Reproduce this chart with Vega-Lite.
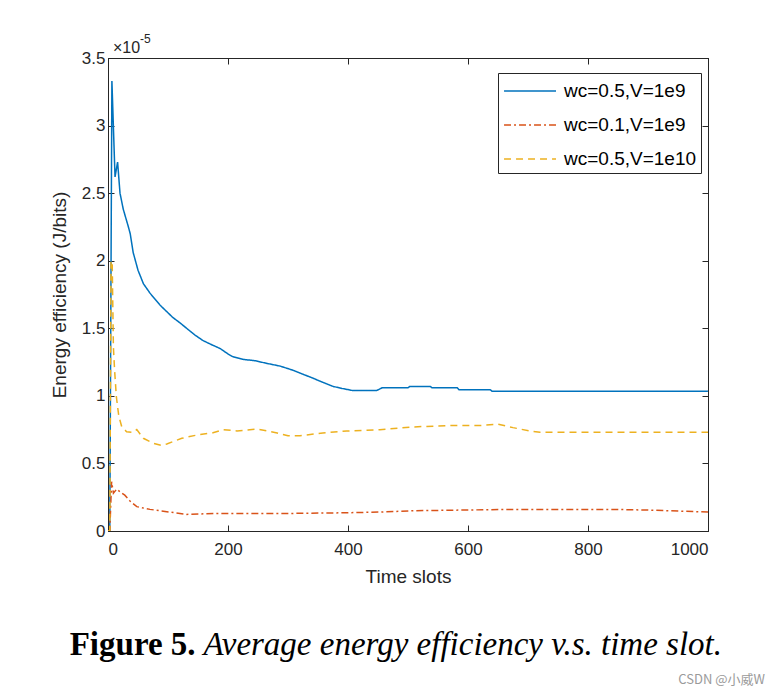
{
  "$schema": "https://vega.github.io/schema/vega-lite/v6.json",
  "width": 600,
  "height": 473,
  "autosize": {"type": "none"},
  "padding": {"left": 108, "top": 58, "right": 72, "bottom": 165},
  "background": "white",
  "config": {
    "font": "Liberation Sans",
    "view": {"stroke": "#262626", "strokeWidth": 1},
    "axis": {
      "grid": false,
      "domainColor": "#262626",
      "domainWidth": 1,
      "tickColor": "#262626",
      "tickSize": -6,
      "tickWidth": 1,
      "labelFont": "Liberation Sans",
      "labelFontSize": 17,
      "labelColor": "#262626",
      "titleFont": "Liberation Sans",
      "titleFontSize": 19,
      "titleFontWeight": "normal",
      "titleColor": "#262626"
    },
    "legend": {
      "labelFont": "Liberation Sans",
      "labelFontSize": 19,
      "labelColor": "#000000"
    }
  },
  "datasets": {
    "series": [
      {"t": 0, "v": 0, "s": "wc=0.5,V=1e9"},
      {"t": 3, "v": 0, "s": "wc=0.5,V=1e9"},
      {"t": 6.5, "v": 3.33, "s": "wc=0.5,V=1e9"},
      {"t": 11.7, "v": 2.62, "s": "wc=0.5,V=1e9"},
      {"t": 16, "v": 2.73, "s": "wc=0.5,V=1e9"},
      {"t": 20, "v": 2.5, "s": "wc=0.5,V=1e9"},
      {"t": 25.5, "v": 2.38, "s": "wc=0.5,V=1e9"},
      {"t": 34, "v": 2.25, "s": "wc=0.5,V=1e9"},
      {"t": 37, "v": 2.2, "s": "wc=0.5,V=1e9"},
      {"t": 42, "v": 2.06, "s": "wc=0.5,V=1e9"},
      {"t": 50, "v": 1.93, "s": "wc=0.5,V=1e9"},
      {"t": 59, "v": 1.83, "s": "wc=0.5,V=1e9"},
      {"t": 70, "v": 1.76, "s": "wc=0.5,V=1e9"},
      {"t": 87, "v": 1.67, "s": "wc=0.5,V=1e9"},
      {"t": 108, "v": 1.58, "s": "wc=0.5,V=1e9"},
      {"t": 120, "v": 1.54, "s": "wc=0.5,V=1e9"},
      {"t": 131, "v": 1.5, "s": "wc=0.5,V=1e9"},
      {"t": 145, "v": 1.45, "s": "wc=0.5,V=1e9"},
      {"t": 158, "v": 1.41, "s": "wc=0.5,V=1e9"},
      {"t": 172, "v": 1.38, "s": "wc=0.5,V=1e9"},
      {"t": 187, "v": 1.35, "s": "wc=0.5,V=1e9"},
      {"t": 200, "v": 1.31, "s": "wc=0.5,V=1e9"},
      {"t": 208, "v": 1.29, "s": "wc=0.5,V=1e9"},
      {"t": 225, "v": 1.27, "s": "wc=0.5,V=1e9"},
      {"t": 245, "v": 1.26, "s": "wc=0.5,V=1e9"},
      {"t": 265, "v": 1.24, "s": "wc=0.5,V=1e9"},
      {"t": 287, "v": 1.22, "s": "wc=0.5,V=1e9"},
      {"t": 308, "v": 1.19, "s": "wc=0.5,V=1e9"},
      {"t": 325, "v": 1.16, "s": "wc=0.5,V=1e9"},
      {"t": 342, "v": 1.13, "s": "wc=0.5,V=1e9"},
      {"t": 358, "v": 1.1, "s": "wc=0.5,V=1e9"},
      {"t": 375, "v": 1.07, "s": "wc=0.5,V=1e9"},
      {"t": 390, "v": 1.055, "s": "wc=0.5,V=1e9"},
      {"t": 407, "v": 1.04, "s": "wc=0.5,V=1e9"},
      {"t": 448, "v": 1.04, "s": "wc=0.5,V=1e9"},
      {"t": 457, "v": 1.06, "s": "wc=0.5,V=1e9"},
      {"t": 500, "v": 1.06, "s": "wc=0.5,V=1e9"},
      {"t": 503, "v": 1.07, "s": "wc=0.5,V=1e9"},
      {"t": 537, "v": 1.07, "s": "wc=0.5,V=1e9"},
      {"t": 540, "v": 1.06, "s": "wc=0.5,V=1e9"},
      {"t": 582, "v": 1.06, "s": "wc=0.5,V=1e9"},
      {"t": 585, "v": 1.045, "s": "wc=0.5,V=1e9"},
      {"t": 637, "v": 1.045, "s": "wc=0.5,V=1e9"},
      {"t": 640, "v": 1.035, "s": "wc=0.5,V=1e9"},
      {"t": 1000, "v": 1.035, "s": "wc=0.5,V=1e9"},

      {"t": 0, "v": 0, "s": "wc=0.1,V=1e9"},
      {"t": 3, "v": 0, "s": "wc=0.1,V=1e9"},
      {"t": 6, "v": 0.365, "s": "wc=0.1,V=1e9"},
      {"t": 9, "v": 0.28, "s": "wc=0.1,V=1e9"},
      {"t": 14.5, "v": 0.31, "s": "wc=0.1,V=1e9"},
      {"t": 23, "v": 0.28, "s": "wc=0.1,V=1e9"},
      {"t": 28, "v": 0.265, "s": "wc=0.1,V=1e9"},
      {"t": 37, "v": 0.22, "s": "wc=0.1,V=1e9"},
      {"t": 48, "v": 0.18, "s": "wc=0.1,V=1e9"},
      {"t": 70, "v": 0.16, "s": "wc=0.1,V=1e9"},
      {"t": 98, "v": 0.143, "s": "wc=0.1,V=1e9"},
      {"t": 131, "v": 0.123, "s": "wc=0.1,V=1e9"},
      {"t": 181, "v": 0.13, "s": "wc=0.1,V=1e9"},
      {"t": 303, "v": 0.13, "s": "wc=0.1,V=1e9"},
      {"t": 398, "v": 0.135, "s": "wc=0.1,V=1e9"},
      {"t": 453, "v": 0.14, "s": "wc=0.1,V=1e9"},
      {"t": 508, "v": 0.15, "s": "wc=0.1,V=1e9"},
      {"t": 592, "v": 0.155, "s": "wc=0.1,V=1e9"},
      {"t": 675, "v": 0.16, "s": "wc=0.1,V=1e9"},
      {"t": 842, "v": 0.16, "s": "wc=0.1,V=1e9"},
      {"t": 898, "v": 0.155, "s": "wc=0.1,V=1e9"},
      {"t": 1000, "v": 0.14, "s": "wc=0.1,V=1e9"},

      {"t": 0, "v": 0, "s": "wc=0.5,V=1e10"},
      {"t": 3, "v": 0, "s": "wc=0.5,V=1e10"},
      {"t": 5, "v": 2.0, "s": "wc=0.5,V=1e10"},
      {"t": 7, "v": 1.99, "s": "wc=0.5,V=1e10"},
      {"t": 9, "v": 1.36, "s": "wc=0.5,V=1e10"},
      {"t": 11, "v": 1.19, "s": "wc=0.5,V=1e10"},
      {"t": 14, "v": 0.99, "s": "wc=0.5,V=1e10"},
      {"t": 18, "v": 0.85, "s": "wc=0.5,V=1e10"},
      {"t": 23, "v": 0.77, "s": "wc=0.5,V=1e10"},
      {"t": 31, "v": 0.735, "s": "wc=0.5,V=1e10"},
      {"t": 42, "v": 0.73, "s": "wc=0.5,V=1e10"},
      {"t": 48, "v": 0.75, "s": "wc=0.5,V=1e10"},
      {"t": 59, "v": 0.686, "s": "wc=0.5,V=1e10"},
      {"t": 75, "v": 0.65, "s": "wc=0.5,V=1e10"},
      {"t": 88, "v": 0.635, "s": "wc=0.5,V=1e10"},
      {"t": 98, "v": 0.644, "s": "wc=0.5,V=1e10"},
      {"t": 123, "v": 0.686, "s": "wc=0.5,V=1e10"},
      {"t": 148, "v": 0.71, "s": "wc=0.5,V=1e10"},
      {"t": 175, "v": 0.727, "s": "wc=0.5,V=1e10"},
      {"t": 192, "v": 0.75, "s": "wc=0.5,V=1e10"},
      {"t": 215, "v": 0.74, "s": "wc=0.5,V=1e10"},
      {"t": 248, "v": 0.755, "s": "wc=0.5,V=1e10"},
      {"t": 265, "v": 0.74, "s": "wc=0.5,V=1e10"},
      {"t": 282, "v": 0.725, "s": "wc=0.5,V=1e10"},
      {"t": 300, "v": 0.705, "s": "wc=0.5,V=1e10"},
      {"t": 320, "v": 0.705, "s": "wc=0.5,V=1e10"},
      {"t": 358, "v": 0.725, "s": "wc=0.5,V=1e10"},
      {"t": 398, "v": 0.74, "s": "wc=0.5,V=1e10"},
      {"t": 453, "v": 0.75, "s": "wc=0.5,V=1e10"},
      {"t": 508, "v": 0.77, "s": "wc=0.5,V=1e10"},
      {"t": 565, "v": 0.78, "s": "wc=0.5,V=1e10"},
      {"t": 620, "v": 0.78, "s": "wc=0.5,V=1e10"},
      {"t": 650, "v": 0.79, "s": "wc=0.5,V=1e10"},
      {"t": 675, "v": 0.765, "s": "wc=0.5,V=1e10"},
      {"t": 703, "v": 0.74, "s": "wc=0.5,V=1e10"},
      {"t": 720, "v": 0.73, "s": "wc=0.5,V=1e10"},
      {"t": 1000, "v": 0.73, "s": "wc=0.5,V=1e10"}
    ],
    "base": [{"txt": "×10"}],
    "exp": [{"txt": "-5"}],
    "figlabel": [{"txt": "Figure 5."}],
    "caption": [{"txt": "Average energy efficiency v.s. time slot."}],
    "mark": [{"txt": "CSDN @小威W"}]
  },
  "layer": [
    {
      "data": {"name": "series"},
      "mark": {"type": "line", "strokeWidth": 1.5, "clip": true},
      "encoding": {
        "x": {
          "field": "t", "type": "quantitative",
          "scale": {"domain": [0, 1000], "nice": false},
          "axis": {"values": [0, 200, 400, 600, 800, 1000], "format": "d", "title": "Time slots", "labelPadding": 16, "titlePadding": 10}
        },
        "y": {
          "field": "v", "type": "quantitative",
          "scale": {"domain": [0, 3.5], "nice": false, "zero": false},
          "axis": {"values": [0, 0.5, 1, 1.5, 2, 2.5, 3, 3.5], "format": "~g", "title": "Energy efficiency (J/bits)", "labelPadding": 9, "titlePadding": 12}
        },
        "color": {
          "field": "s", "type": "nominal",
          "scale": {"domain": ["wc=0.5,V=1e9", "wc=0.1,V=1e9", "wc=0.5,V=1e10"], "range": ["#0072BD", "#D95319", "#EDB120"]},
          "legend": {
            "title": null,
            "orient": "none",
            "legendX": 390,
            "legendY": 15,
            "fillColor": "white",
            "strokeColor": "#262626",
            "padding": 4,
            "symbolType": "M-0.92,0H3.08",
            "symbolSize": 676,
            "symbolStrokeWidth": 1.5,
            "labelOffset": 34,
            "rowPadding": 10
          }
        },
        "strokeDash": {
          "field": "s", "type": "nominal",
          "scale": {"domain": ["wc=0.5,V=1e9", "wc=0.1,V=1e9", "wc=0.5,V=1e10"], "range": [[1, 0], [7, 3, 2, 3], [7, 5]]},
          "legend": null
        },
        "order": {"field": "t", "type": "quantitative"}
      }
    },
    {
      "data": {"name": "series"},
      "mark": {"type": "line", "opacity": 0, "clip": true},
      "encoding": {
        "x": {"field": "t", "type": "quantitative", "axis": {"orient": "top", "values": [0, 200, 400, 600, 800, 1000], "labels": false, "title": null}},
        "y": {"field": "v", "type": "quantitative", "axis": {"orient": "right", "values": [0, 0.5, 1, 1.5, 2, 2.5, 3, 3.5], "labels": false, "title": null}},
        "detail": {"field": "s"}
      }
    },
    {
      "data": {"name": "base"},
      "mark": {"type": "text", "align": "left", "baseline": "alphabetic", "dx": 5, "dy": -5, "fontSize": 16, "color": "#262626", "font": "Liberation Sans"},
      "encoding": {"x": {"datum": 0, "axis": null}, "y": {"datum": 3.5, "axis": null}, "text": {"field": "txt"}}
    },
    {
      "data": {"name": "exp"},
      "mark": {"type": "text", "align": "left", "baseline": "alphabetic", "dx": 32, "dy": -15, "fontSize": 12, "color": "#262626", "font": "Liberation Sans"},
      "encoding": {"x": {"datum": 0, "axis": null}, "y": {"datum": 3.5, "axis": null}, "text": {"field": "txt"}}
    },
    {
      "data": {"name": "figlabel"},
      "mark": {"type": "text", "align": "right", "baseline": "alphabetic", "fontSize": 33, "fontWeight": "bold", "color": "#000000", "font": "Liberation Serif"},
      "encoding": {"x": {"datum": 146, "axis": null}, "y": {"datum": -0.918, "axis": null}, "text": {"field": "txt"}}
    },
    {
      "data": {"name": "caption"},
      "mark": {"type": "text", "align": "left", "baseline": "alphabetic", "fontSize": 33, "fontStyle": "italic", "color": "#000000", "font": "Liberation Serif"},
      "encoding": {"x": {"datum": 159, "axis": null}, "y": {"datum": -0.918, "axis": null}, "text": {"field": "txt"}}
    },
    {
      "data": {"name": "mark"},
      "mark": {"type": "text", "align": "right", "baseline": "middle", "fontSize": 13, "color": "#9a9a9a", "font": "Noto Sans CJK SC"},
      "encoding": {"x": {"datum": 1095, "axis": null}, "y": {"datum": -1.103, "axis": null}, "text": {"field": "txt"}}
    }
  ],
  "resolve": {"axis": {"x": "independent", "y": "independent"}}
}
